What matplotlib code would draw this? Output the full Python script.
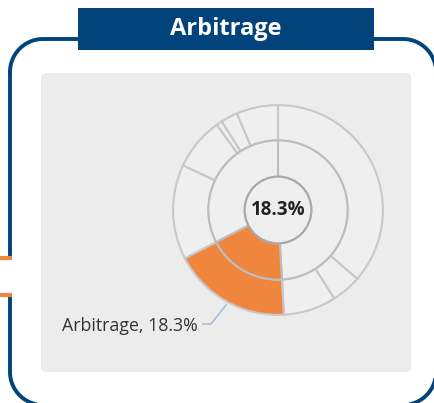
import numpy as np
import matplotlib.pyplot as plt
from matplotlib.patches import FancyBboxPatch, Circle

# inner ring: three groups, Arbitrage highlighted
inner_labels = ['Group A', 'Arbitrage', 'Group C']
inner_values = [49.1, 18.3, 32.6]

# outer ring: sub-categories, clockwise from 12 o'clock
outer_labels = ['A1', 'A2', 'A3', 'Arbitrage', 'C1', 'C2', 'C3', 'C4', 'C5']
outer_values = [36.4, 4.6, 8.1, 18.3, 14.6, 8.1, 0.9, 2.6, 6.4]

highlight = 'Arbitrage'
highlight_share = 18.3
title = 'Arbitrage'

W, H = 435, 403
fig = plt.figure(figsize=(W / 100, H / 100), dpi=100)
plt.rcParams['font.family'] = ['Open Sans', 'DejaVu Sans']

# background layer in pixel coordinates (y grows downward)
bg = fig.add_axes([0, 0, 1, 1])
bg.set_xlim(0, W)
bg.set_ylim(H, 0)
bg.axis('off')

navy = '#03437b'
orange = '#f0853d'


def rounded_frame(x0, y0, x1, y1, r):
    t = np.linspace(0, np.pi / 2, 30)
    xs, ys = [], []
    xs += list(x0 + r - r * np.cos(t)); ys += list(y0 + r - r * np.sin(t))
    xs += list(x1 - r + r * np.sin(t)); ys += list(y0 + r - r * np.cos(t))
    xs += list(x1 - r + r * np.cos(t)); ys += list(y1 - r + r * np.sin(t))
    xs += list(x0 + r - r * np.sin(t)); ys += list(y1 - r + r * np.cos(t))
    xs.append(xs[0]); ys.append(ys[0])
    return np.array(xs), np.array(ys)


fx, fy = rounded_frame(10, 39, 436, 405, 33)
bg.plot(fx, fy, color=navy, lw=2.8, zorder=1)
# gap on the left side with orange connectors
bg.add_patch(plt.Rectangle((6, 259), 8, 35, fc='white', ec='none', zorder=2))
bg.plot([0, 12], [258, 258], color=orange, lw=3, solid_capstyle='butt', zorder=3)
bg.plot([0, 12], [295, 295], color=orange, lw=3, solid_capstyle='butt', zorder=3)

# title bar
bg.add_patch(plt.Rectangle((78, 8), 296, 42, fc=navy, ec='none', zorder=3))
bg.text(226, 29, title, color='white', fontsize=17, fontweight='bold',
        ha='center', va='center', zorder=4)

# gray panel
bg.add_patch(FancyBboxPatch((41, 73), 370, 299, boxstyle='round,pad=0,rounding_size=5',
                            fc='#ececec', ec='none', zorder=1))

# label with leader line
bg.text(62, 326, f'{highlight}, {highlight_share}%', fontsize=12.8, color='#333333',
        ha='left', va='center', zorder=4)
bg.plot([203, 211, 226], [324, 324, 305], color='#a9bfd4', lw=1.2, zorder=4)

# donut axes: center (278, 210) px, outer radius 107 px
cx, cy, R = 278, 210, 107
ax = fig.add_axes([(cx - R) / W, (H - cy - R) / H, 2 * R / W, 2 * R / H])
ax.axis('off')

r_mid = 71 / R
r_in = 34 / R

fill = '#efefef'
edge = '#c8c8c8'

outer_colors = [orange if l == highlight else fill for l in outer_labels]
inner_colors = [orange if l == highlight else fill for l in inner_labels]

ax.pie(outer_values, radius=1.0, colors=outer_colors, startangle=90, counterclock=False,
       wedgeprops=dict(width=1.0 - r_mid, edgecolor=edge, linewidth=1.5))
ax.pie(inner_values, radius=r_mid, colors=inner_colors, startangle=90, counterclock=False,
       wedgeprops=dict(width=r_mid - r_in, edgecolor='#bdbdbd', linewidth=1.5))
ax.add_patch(Circle((0, 0), r_in, fc='#eeeeee', ec='#a8a8a8', lw=1.5, zorder=5))
ax.text(0, 0, f'{highlight_share}%', fontsize=13.5, fontweight='bold', color='#222222',
        ha='center', va='center', zorder=6)
ax.set_xlim(-1.02, 1.02)
ax.set_ylim(-1.02, 1.02)

fig.savefig('out.png', dpi=100)
